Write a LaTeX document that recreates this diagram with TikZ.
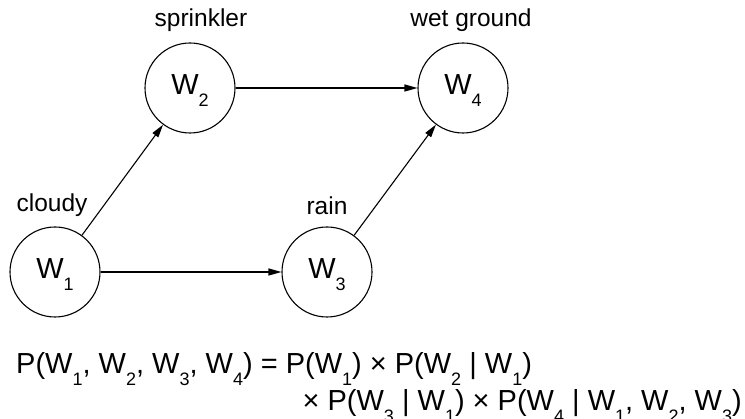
\documentclass[tikz,border=0pt]{standalone}
\usepackage{fontspec}
\setmainfont{Liberation Sans}
\usetikzlibrary{arrows.meta}
\newcommand{\wsub}[1]{\raisebox{-12pt}[0pt][0pt]{\fontsize{18}{18}\selectfont #1}}
\newcommand{\nsub}[1]{\raisebox{-12pt}[0pt][6pt]{\fontsize{18}{18}\selectfont #1}}
\begin{document}
\begin{tikzpicture}[x=1pt,y=1pt,
  state/.style={circle,draw,line width=1.1pt,minimum size=90pt,inner sep=0pt,font=\fontsize{29}{29}\selectfont},
  lbl/.style={anchor=base,inner sep=0pt,font=\fontsize{24.5}{24.5}\selectfont},
  edge/.style={line width=1.1pt,-{Triangle[length=13pt,width=7pt]}},
  formula/.style={inner sep=0pt,font=\fontsize{29}{29}\selectfont}]
\useasboundingbox (0,0) rectangle (745,419);
\node[state] (W1) at (55,147) {W\nsub{1}};
\node[state] (W2) at (190,331) {W\nsub{2}};
\node[state] (W3) at (327,147) {W\nsub{3}};
\node[state] (W4) at (463,331) {W\nsub{4}};
\node[lbl] (l1) at (52,207) {cloudy};
\node[lbl] (l2) at (201,392) {sprinkler};
\node[lbl] (l3) at (327,204) {rain};
\node[lbl] (l4) at (471,392) {wet ground};
\draw[edge] (W1) -- (W2);
\draw[edge] (W1) -- (W3);
\draw[edge] (W2) -- (W4);
\draw[edge] (W3) -- (W4);
\node[formula,anchor=base west] (f1) at (16,45) {P(W\wsub{1}, W\wsub{2}, W\wsub{3}, W\wsub{4}) = P(W\wsub{1}) × P(W\wsub{2} | W\wsub{1})};
\node[formula,anchor=base east] (f2) at (742,8) {× P(W\wsub{3} | W\wsub{1}) × P(W\wsub{4} | W\wsub{1}, W\wsub{2}, W\wsub{3})};
\end{tikzpicture}
\end{document}
